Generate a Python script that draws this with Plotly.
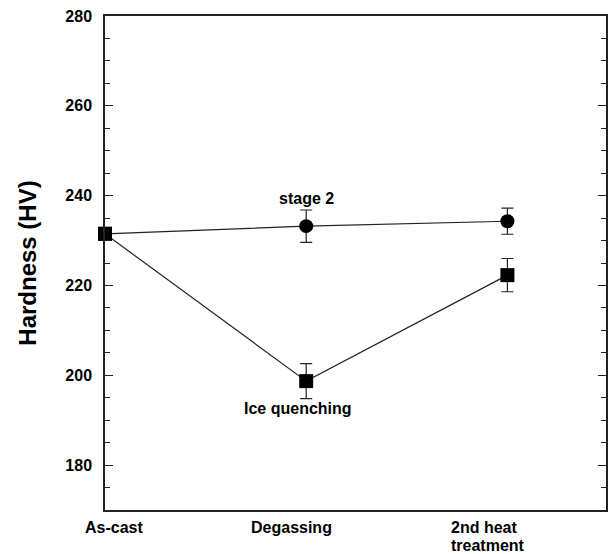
import plotly.graph_objects as go

categories = ["As-cast", "Degassing", "2nd heat<br>treatment"]
x_pos = [0, 1, 2]
stage2_values = [231.5, 233.2, 234.3]
stage2_err = [0, 3.6, 2.9]
ice_values = [231.5, 198.7, 222.3]
ice_err = [0, 3.9, 3.7]
y_ticks = [180, 200, 220, 240, 260, 280]

FONT = "Liberation Sans, Arial, sans-serif"
LINE = "#222222"
X_RANGE = [0, 2.49]

fig = go.Figure()
fig.add_trace(go.Scatter(
    x=x_pos, y=stage2_values,
    mode="lines+markers",
    line=dict(color=LINE, width=1.2),
    marker=dict(symbol=["square", "circle", "circle"], size=14, color="#000000",
                opacity=1, line=dict(width=0, color="#000000")),
    error_y=dict(type="data", array=stage2_err, color=LINE, thickness=1.2, width=6),
    cliponaxis=False, showlegend=False, hoverinfo="skip",
))
fig.add_trace(go.Scatter(
    x=x_pos, y=ice_values,
    mode="lines+markers",
    line=dict(color=LINE, width=1.2),
    marker=dict(symbol="square", size=14, color="#000000", opacity=1,
                line=dict(width=0, color="#000000")),
    error_y=dict(type="data", array=ice_err, color=LINE, thickness=1.2, width=6),
    cliponaxis=False, showlegend=False, hoverinfo="skip",
))

# category labels (placed slightly left of the data points, as in the reference)
label_offsets = [-0.11, -0.285, -0.29]
for xc, lab, off in zip(x_pos, categories, label_offsets):
    px = (xc + off - X_RANGE[0]) / (X_RANGE[1] - X_RANGE[0])
    for i, line_txt in enumerate(lab.split("<br>")):
        fig.add_annotation(x=px, y=0, xref="paper", yref="paper", yanchor="top",
                           xanchor="left", align="left", yshift=-7 - 18 * i,
                           text=f"<b>{line_txt}</b>", showarrow=False,
                           font=dict(family=FONT, size=16, color="black"))

fig.add_annotation(x=1, y=stage2_values[1], xref="x", yref="y", yshift=28,
                   text="<b>stage 2</b>", showarrow=False,
                   font=dict(family=FONT, size=16, color="black"))
fig.add_annotation(x=0.96, y=ice_values[1], xref="x", yref="y", yshift=-27,
                   text="<b>Ice quenching</b>", showarrow=False,
                   font=dict(family=FONT, size=16, color="black"))

fig.update_layout(
    width=610, height=554,
    margin=dict(l=105, r=4, t=16, b=44, autoexpand=False),
    paper_bgcolor="white", plot_bgcolor="white",
    font=dict(family=FONT, color="black"),
    hovermode=False,
    xaxis=dict(range=X_RANGE, showticklabels=False, ticks="", showgrid=False,
               zeroline=False, showline=True, linecolor=LINE, linewidth=1.5, mirror=True),
    yaxis=dict(range=[170, 280], tickvals=y_ticks, ticks="inside", ticklen=8,
               tickwidth=1.2, tickcolor=LINE, showgrid=False, zeroline=False,
               showline=True, linecolor=LINE, linewidth=1.5, mirror="allticks",
               ticklabelstandoff=8, automargin=False,
               tickfont=dict(family=FONT, size=16, color="black", weight="bold"),
               minor=dict(dtick=5, ticks="inside", ticklen=5, tickwidth=1.2, tickcolor=LINE),
               title=dict(text="<b>Hardness (HV)</b>", standoff=22,
                          font=dict(family=FONT, size=24, color="black"))),
)

fig.write_html("out.html", config={"displayModeBar": False},
               post_script="document.body.style.margin='0';")
